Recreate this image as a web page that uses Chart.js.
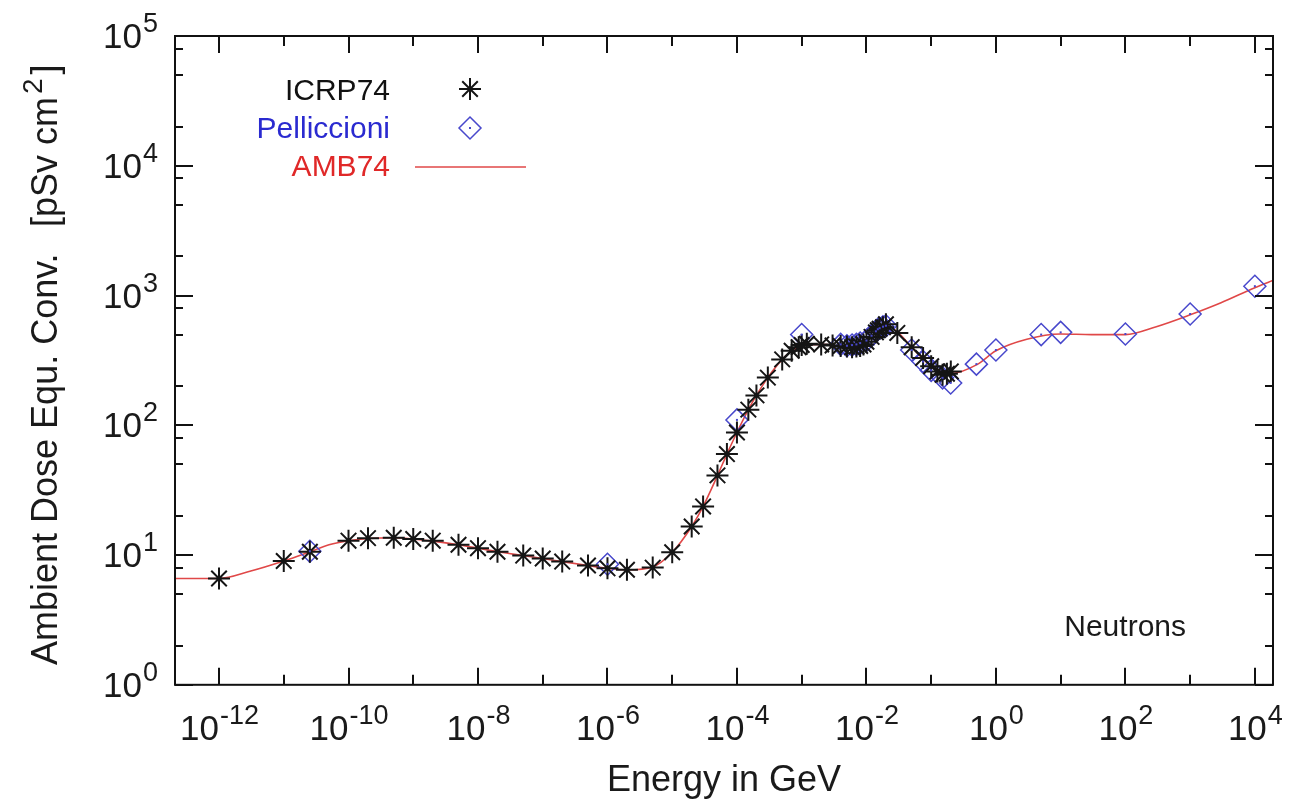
<!DOCTYPE html>
<html>
<head>
<meta charset="utf-8">
<title>Ambient dose equivalent conversion - neutrons</title>
<script src="https://cdn.jsdelivr.net/npm/chart.js@4.4.1/dist/chart.umd.min.js"></script>
<style>
  html, body { margin: 0; padding: 0; background: #fff; }
  #wrap { width: 1289px; height: 804px; position: relative; }
</style>
</head>
<body>
<div id="wrap"><canvas id="chart"></canvas></div>
<script>
// ICRP74 coefficients (energy in GeV, pSv cm2)
const icrpEnergy = [1e-12, 1e-11, 2.53e-11, 1e-10, 2e-10, 5e-10, 1e-9, 2e-9, 5e-9, 1e-8, 2e-8, 5e-8,
  1e-7, 2e-7, 5e-7, 1e-6, 2e-6, 5e-6, 1e-5, 2e-5, 3e-5, 5e-5, 7e-5, 1e-4, 1.5e-4, 2e-4, 3e-4,
  5e-4, 7e-4, 9e-4, 1e-3, 1.2e-3, 2e-3, 3e-3, 4e-3, 5e-3, 6e-3, 7e-3, 8e-3, 9e-3, 1e-2, 1.2e-2,
  1.4e-2, 1.5e-2, 1.6e-2, 1.8e-2, 2e-2, 3e-2, 5e-2, 7.5e-2, 0.1, 0.125, 0.15, 0.175, 0.201];
const icrpDose = [6.6, 9.0, 10.6, 12.9, 13.5, 13.6, 13.3, 12.9, 12.0, 11.3, 10.6, 9.9,
  9.4, 8.9, 8.3, 7.9, 7.7, 8.0, 10.5, 16.6, 23.7, 41.1, 60, 88, 132, 170, 233,
  322, 375, 400, 416, 425, 420, 412, 408, 405, 400, 405, 409, 420, 440, 480,
  520, 540, 555, 570, 600, 515, 400, 330, 285, 260, 245, 250, 260];

// Pelliccioni coefficients
const pellEnergy = [2.53e-11, 1e-6, 1e-4, 1e-3, 4e-3, 5e-3, 6e-3, 7e-3, 8e-3, 1e-2, 1.2e-2, 1.4e-2,
  1.5e-2, 1.6e-2, 1.8e-2, 2e-2, 5e-2, 7.5e-2, 0.1, 0.15, 0.2, 0.5, 1, 5, 10, 100, 1000, 10000];
const pellDose = [10.7, 8.5, 110, 500, 420, 410, 415, 420, 430, 450, 490, 530,
  550, 560, 575, 585, 380, 310, 265, 232, 212, 296, 380, 500, 520, 505, 720, 1180];

// AMB74 fit curve
const ambEnergy = [2e-13, 1e-12, 3e-12, 1e-11, 2.53e-11, 5e-11, 1e-10, 2e-10, 5e-10, 1e-9, 2e-9, 5e-9,
  1e-8, 2e-8, 5e-8, 1e-7, 2e-7, 5e-7, 1e-6, 2e-6, 5e-6, 1e-5, 2e-5, 3e-5, 5e-5, 7e-5, 1e-4,
  1.5e-4, 2e-4, 3e-4, 5e-4, 7e-4, 1e-3, 2e-3, 5e-3, 8e-3, 1e-2, 1.4e-2, 2e-2, 3e-2, 5e-2,
  7.5e-2, 0.1, 0.15, 0.2, 0.5, 1, 3, 10, 30, 100, 300, 1000, 3000, 1e4, 2e4];
const ambDose = [6.6, 6.6, 7.5, 9.0, 10.6, 12.0, 12.9, 13.4, 13.6, 13.3, 12.8, 12.0,
  11.3, 10.6, 9.9, 9.4, 8.9, 8.3, 7.9, 7.7, 8.1, 10.5, 16.6, 23.7, 41, 60, 88,
  132, 170, 233, 322, 375, 410, 420, 405, 412, 440, 515, 590, 525, 400,
  325, 285, 255, 250, 292, 375, 460, 505, 500, 500, 575, 710, 880, 1150, 1320];

// axis ticks (powers of ten)
const xLabelExp = [-12, -10, -8, -6, -4, -2, 0, 2, 4];
const xMinorExp = [-11, -9, -7, -5, -3, -1, 1, 3];
const yLabelExp = [0, 1, 2, 3, 4, 5];
const yMinorMant = [2, 5, 8];

const FONT = '"Liberation Sans", Arial, Helvetica, sans-serif';
const RED = '#e04848';
const BLUE = '#4848cc';

function toPoints(xs, ys) {
  return xs.map((e, i) => ({ x: e, y: ys[i] }));
}

// "10" with a raised exponent, gnuplot style
function drawPow(ctx, exp, x, y, align) {
  const big = '35px ' + FONT, small = '27px ' + FONT;
  ctx.font = big;
  const bw = ctx.measureText('10').width;
  ctx.font = small;
  const ew = ctx.measureText(String(exp)).width;
  const left = align === 'center' ? x - (bw + ew) / 2 : x - bw - ew;
  ctx.textAlign = 'left';
  ctx.textBaseline = 'alphabetic';
  ctx.font = big;
  ctx.fillText('10', left, y);
  ctx.font = small;
  ctx.fillText(String(exp), left + bw + 1, y - 16);
}

function drawStar(ctx, x, y, r) {
  ctx.beginPath();
  for (let k = 0; k < 4; k++) {
    const a = k * Math.PI / 4;
    ctx.moveTo(x - r * Math.cos(a), y - r * Math.sin(a));
    ctx.lineTo(x + r * Math.cos(a), y + r * Math.sin(a));
  }
  ctx.stroke();
}

function drawDiamond(ctx, x, y, r) {
  ctx.beginPath();
  ctx.moveTo(x, y - r);
  ctx.lineTo(x + r, y);
  ctx.lineTo(x, y + r);
  ctx.lineTo(x - r, y);
  ctx.closePath();
  ctx.stroke();
  ctx.fillRect(x - 1, y - 1, 2, 2);
}

const framePlugin = {
  id: 'frame',
  afterDatasetsDraw(chart) {
    // little dot inside each Pelliccioni diamond
    const ctx = chart.ctx;
    const meta = chart.getDatasetMeta(1);
    ctx.save();
    ctx.fillStyle = BLUE;
    meta.data.forEach(p => ctx.fillRect(p.x - 1, p.y - 1, 2, 2));
    ctx.restore();
  },
  afterDraw(chart) {
    const { ctx, chartArea: a, scales: { x, y } } = chart;
    ctx.save();
    ctx.strokeStyle = '#111';
    ctx.lineWidth = 2;
    ctx.strokeRect(a.left, a.top, a.right - a.left, a.bottom - a.top);

    ctx.beginPath();
    const xTick = (e, len) => {
      const px = Math.round(x.getPixelForValue(Math.pow(10, e)));
      ctx.moveTo(px, a.bottom); ctx.lineTo(px, a.bottom - len);
      ctx.moveTo(px, a.top); ctx.lineTo(px, a.top + len);
    };
    xLabelExp.forEach(e => xTick(e, 17));
    xMinorExp.forEach(e => xTick(e, 10));
    const yTick = (v, len) => {
      const py = Math.round(y.getPixelForValue(v));
      ctx.moveTo(a.left, py); ctx.lineTo(a.left + len, py);
      ctx.moveTo(a.right, py); ctx.lineTo(a.right - len, py);
    };
    yLabelExp.forEach(e => {
      yTick(Math.pow(10, e), 18);
      if (e < 5) yMinorMant.forEach(m => yTick(m * Math.pow(10, e), 8));
    });
    ctx.stroke();

    // tick labels
    ctx.fillStyle = '#1a1a1a';
    xLabelExp.forEach(e => drawPow(ctx, e, x.getPixelForValue(Math.pow(10, e)), a.bottom + 55, 'center'));
    yLabelExp.forEach(e => drawPow(ctx, e, a.left - 18, y.getPixelForValue(Math.pow(10, e)) + 12, 'right'));

    // y axis title, rotated, with a real superscript
    ctx.save();
    ctx.translate(57, 665);
    ctx.rotate(-Math.PI / 2);
    ctx.textAlign = 'left';
    ctx.textBaseline = 'alphabetic';
    ctx.font = '36px ' + FONT;
    ctx.fillText('Ambient Dose Equ. Conv.', 0, 0);
    let u = 438;
    ctx.fillText('[pSv cm', u, 0);
    u += ctx.measureText('[pSv cm').width + 3;
    ctx.font = '28px ' + FONT;
    ctx.fillText('2', u, -15);
    u += ctx.measureText('2').width + 4;
    ctx.font = '36px ' + FONT;
    ctx.fillText(']', u, 0);
    ctx.restore();

    // key, gnuplot style
    ctx.font = '30px ' + FONT;
    ctx.textAlign = 'right';
    ctx.textBaseline = 'middle';
    const ds = chart.data.datasets;
    ctx.fillStyle = '#111';
    ctx.fillText(ds[0].label, 390, 92);
    ctx.strokeStyle = ds[0].borderColor;
    ctx.lineWidth = 2;
    drawStar(ctx, 470, 89, 11);
    ctx.fillStyle = '#2a2ad0';
    ctx.fillText(ds[1].label, 390, 130);
    ctx.strokeStyle = ds[1].borderColor;
    ctx.fillStyle = ds[1].borderColor;
    ctx.lineWidth = 1.5;
    drawDiamond(ctx, 470, 128, 11);
    ctx.fillStyle = '#e02828';
    ctx.fillText(ds[2].label, 390, 168);
    ctx.strokeStyle = ds[2].borderColor;
    ctx.beginPath();
    ctx.moveTo(415, 167); ctx.lineTo(526, 167);
    ctx.stroke();

    ctx.fillStyle = '#1a1a1a';
    ctx.fillText('Neutrons', 1186, 628);
    ctx.restore();
  }
};

Chart.defaults.font.family = FONT;

const ctx = document.getElementById('chart');
new Chart(ctx, {
  type: 'scatter',
  data: {
    datasets: [
      {
        label: 'ICRP74',
        data: toPoints(icrpEnergy, icrpDose),
        pointStyle: 'star',
        pointRadius: 11,
        borderColor: '#151515',
        backgroundColor: '#151515',
        borderWidth: 2,
        showLine: false
      },
      {
        label: 'Pelliccioni',
        data: toPoints(pellEnergy, pellDose),
        pointStyle: 'rectRot',
        pointRadius: 11,
        borderColor: BLUE,
        backgroundColor: 'transparent',
        borderWidth: 1.5,
        showLine: false
      },
      {
        label: 'AMB74',
        data: toPoints(ambEnergy, ambDose),
        showLine: true,
        pointRadius: 0,
        borderColor: RED,
        borderWidth: 1.6,
        cubicInterpolationMode: 'monotone'
      }
    ]
  },
  options: {
    responsive: true,
    maintainAspectRatio: false,
    animation: false,
    devicePixelRatio: 1,
    layout: { autoPadding: false, padding: { top: 36, right: 16, left: 175, bottom: 0 } },
    plugins: {
      legend: { display: false },
      tooltip: { enabled: false }
    },
    scales: {
      x: {
        type: 'logarithmic',
        min: Math.pow(10, -12.68),
        max: Math.pow(10, 4.28),
        grid: { display: false, drawTicks: false },
        border: { display: false },
        ticks: { display: false },
        title: {
          display: true,
          text: 'Energy in GeV',
          color: '#1a1a1a',
          font: { size: 36 },
          padding: { top: 75, bottom: 1 }
        }
      },
      y: {
        type: 'logarithmic',
        min: 1,
        max: 1e5,
        grid: { display: false, drawTicks: false },
        border: { display: false },
        ticks: { display: false },
        title: { display: false }
      }
    }
  },
  plugins: [framePlugin]
});
</script>
</body>
</html>
